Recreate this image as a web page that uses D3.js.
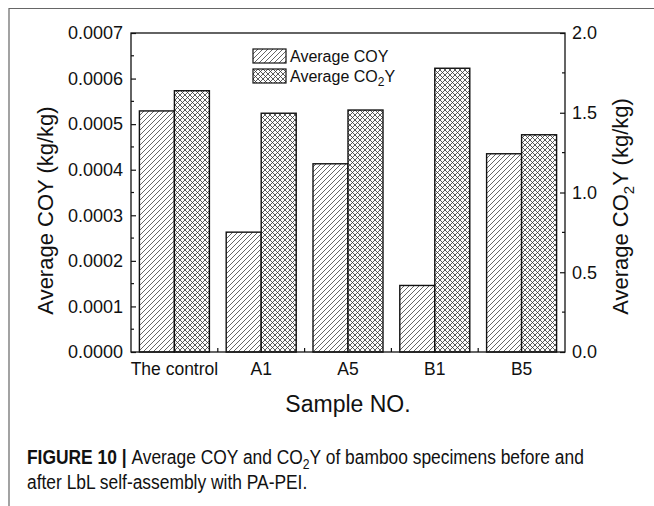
<!DOCTYPE html>
<html>
<head>
<meta charset="utf-8">
<script src="https://cdn.jsdelivr.net/npm/d3@7"></script>
<style>
  html, body { margin: 0; padding: 0; background: #fff; }
  svg text { font-family: "Liberation Sans", Arial, sans-serif; fill: #111; }
</style>
</head>
<body>
<div id="chart"></div>
<script>
// samples and the two series (COY left axis, CO2Y right axis)
const samples = ["The control", "A1", "A5", "B1", "B5"];
const coyValues = [0.000529, 0.000263, 0.000413, 0.000146, 0.000435];
const co2yValues = [1.638, 1.497, 1.517, 1.779, 1.362];
const leftTicks = [0, 0.0001, 0.0002, 0.0003, 0.0004, 0.0005, 0.0006, 0.0007];
const rightTicks = [0, 0.5, 1.0, 1.5, 2.0];

const width = 654, height = 506;
const m = { top: 33, right: 89, bottom: 154, left: 131 };

const svg = d3.select("#chart").append("svg")
  .attr("width", width)
  .attr("height", height);

// ----- hatch patterns -----
const defs = svg.append("defs");
const P = 5;
const diag = defs.append("pattern")
  .attr("id", "hatch-diag")
  .attr("patternUnits", "userSpaceOnUse")
  .attr("width", P).attr("height", P);
diag.append("rect").attr("width", P).attr("height", P).attr("fill", "#fff");
diag.append("path")
  .attr("d", `M-1,1 l2,-2 M0,${P} l${P},-${P} M${P - 1},${P + 1} l2,-2`)
  .attr("stroke", "#333").attr("stroke-width", 0.75);

const cross = defs.append("pattern")
  .attr("id", "hatch-cross")
  .attr("patternUnits", "userSpaceOnUse")
  .attr("width", P).attr("height", P);
cross.append("rect").attr("width", P).attr("height", P).attr("fill", "#fff");
cross.append("path")
  .attr("d", `M-1,1 l2,-2 M0,${P} l${P},-${P} M${P - 1},${P + 1} l2,-2 ` +
             `M-1,${P - 1} l2,2 M0,0 l${P},${P} M${P - 1},-1 l2,2`)
  .attr("stroke", "#333").attr("stroke-width", 0.8);

// ----- outer frame (top + left edge) -----
svg.append("path")
  .attr("d", `M9,${height} V8.5 H${width}`)
  .attr("fill", "none")
  .attr("stroke", "#666")
  .attr("stroke-width", 1.2);

// ----- scales -----
const x = d3.scaleBand()
  .domain(samples)
  .range([m.left, width - m.right])
  .padding(0);

const sub = d3.scaleBand()
  .domain(["COY", "CO2Y"])
  .range([0, x.bandwidth()])
  .paddingInner(0)
  .paddingOuter(0.24);

const yL = d3.scaleLinear()
  .domain([0, 0.0007])
  .range([height - m.bottom, m.top]);

const yR = d3.scaleLinear()
  .domain([0, 2.0])
  .range([height - m.bottom, m.top]);

// ----- bars -----
const g = svg.append("g");
samples.forEach((s, i) => {
  g.append("rect")
    .attr("x", x(s) + sub("COY"))
    .attr("y", yL(coyValues[i]))
    .attr("width", sub.bandwidth())
    .attr("height", yL(0) - yL(coyValues[i]))
    .attr("fill", "url(#hatch-diag)")
    .attr("stroke", "#111")
    .attr("stroke-width", 1.4);

  g.append("rect")
    .attr("x", x(s) + sub("CO2Y"))
    .attr("y", yR(co2yValues[i]))
    .attr("width", sub.bandwidth())
    .attr("height", yR(0) - yR(co2yValues[i]))
    .attr("fill", "url(#hatch-cross)")
    .attr("stroke", "#111")
    .attr("stroke-width", 1.4);
});

// ----- plot box -----
svg.append("rect")
  .attr("x", m.left)
  .attr("y", m.top)
  .attr("width", width - m.left - m.right)
  .attr("height", height - m.top - m.bottom)
  .attr("fill", "none")
  .attr("stroke", "#111")
  .attr("stroke-width", 1.3);

// ----- left axis -----
const leftMinor = d3.range(0.00005, 0.0007, 0.0001);
const lAx = svg.append("g")
  .attr("transform", `translate(${m.left},0)`)
  .call(d3.axisLeft(yL)
    .tickValues(leftTicks)
    .tickFormat(d3.format(".4f"))
    .tickSize(-5)
    .tickPadding(8)
    .tickSizeOuter(0));
lAx.select(".domain").remove();
lAx.selectAll("text").attr("font-size", 18);
lAx.selectAll(".tick line").attr("stroke", "#111").attr("stroke-width", 1.2);
svg.append("g").selectAll("line")
  .data(leftMinor).join("line")
  .attr("x1", m.left).attr("x2", m.left + 3)
  .attr("y1", d => yL(d)).attr("y2", d => yL(d))
  .attr("stroke", "#111").attr("stroke-width", 1.2);

// ----- right axis -----
const rightMinor = [0.25, 0.75, 1.25, 1.75];
const rAx = svg.append("g")
  .attr("transform", `translate(${width - m.right},0)`)
  .call(d3.axisRight(yR)
    .tickValues(rightTicks)
    .tickFormat(d3.format(".1f"))
    .tickSize(-5)
    .tickPadding(7)
    .tickSizeOuter(0));
rAx.select(".domain").remove();
rAx.selectAll("text").attr("font-size", 18);
rAx.selectAll(".tick line").attr("stroke", "#111").attr("stroke-width", 1.2);
svg.append("g").selectAll("line")
  .data(rightMinor).join("line")
  .attr("x1", width - m.right).attr("x2", width - m.right - 3)
  .attr("y1", d => yR(d)).attr("y2", d => yR(d))
  .attr("stroke", "#111").attr("stroke-width", 1.2);

// ----- x axis -----
const xAx = svg.append("g")
  .attr("transform", `translate(0,${height - m.bottom})`)
  .call(d3.axisBottom(x).tickSize(0).tickPadding(11).tickSizeOuter(0));
xAx.select(".domain").remove();
xAx.selectAll("text").attr("font-size", 17.5);
// small ticks between groups
svg.append("g").selectAll("line")
  .data(samples.slice(1)).join("line")
  .attr("x1", d => x(d)).attr("x2", d => x(d))
  .attr("y1", height - m.bottom).attr("y2", height - m.bottom - 4)
  .attr("stroke", "#111").attr("stroke-width", 1.2);

// ----- axis titles -----
const plotMidY = (m.top + height - m.bottom) / 2;
svg.append("text")
  .attr("transform", `translate(53,${plotMidY + 18}) rotate(-90)`)
  .attr("text-anchor", "middle")
  .attr("font-size", 22)
  .text("Average COY (kg/kg)");

const rt = svg.append("text")
  .attr("transform", `translate(628,${plotMidY + 14}) rotate(-90)`)
  .attr("text-anchor", "middle")
  .attr("font-size", 22);
rt.append("tspan").text("Average CO");
rt.append("tspan").attr("font-size", 15).attr("dy", 6).text("2");
rt.append("tspan").attr("dy", -6).text("Y (kg/kg)");

svg.append("text")
  .attr("x", (m.left + width - m.right) / 2)
  .attr("y", 412)
  .attr("text-anchor", "middle")
  .attr("font-size", 23)
  .text("Sample NO.");

// ----- legend -----
const legend = svg.append("g").attr("transform", "translate(253,49)");
legend.append("rect")
  .attr("width", 33).attr("height", 14)
  .attr("fill", "url(#hatch-diag)")
  .attr("stroke", "#111").attr("stroke-width", 1.2);
legend.append("text")
  .attr("x", 37).attr("y", 13)
  .attr("font-size", 16)
  .text("Average COY");
legend.append("rect")
  .attr("y", 20)
  .attr("width", 33).attr("height", 14)
  .attr("fill", "url(#hatch-cross)")
  .attr("stroke", "#111").attr("stroke-width", 1.2);
const lt = legend.append("text")
  .attr("x", 37).attr("y", 33)
  .attr("font-size", 16);
lt.append("tspan").text("Average CO");
lt.append("tspan").attr("font-size", 12).attr("dy", 4).text("2");
lt.append("tspan").attr("dy", -4).text("Y");

// ----- caption -----
const cap = svg.append("g")
  .attr("transform", "translate(27,0) scale(0.87,1)");
const c1 = cap.append("text").attr("x", 0).attr("y", 464).attr("font-size", 20);
c1.append("tspan").attr("font-weight", "bold").text("FIGURE 10 | ");
c1.append("tspan").text("Average COY and CO");
c1.append("tspan").attr("font-size", 14).attr("dy", 5).text("2");
c1.append("tspan").attr("dy", -5).text("Y of bamboo specimens before and");
cap.append("text").attr("x", 0).attr("y", 489).attr("font-size", 20)
  .text("after LbL self-assembly with PA-PEI.");
</script>
</body>
</html>
